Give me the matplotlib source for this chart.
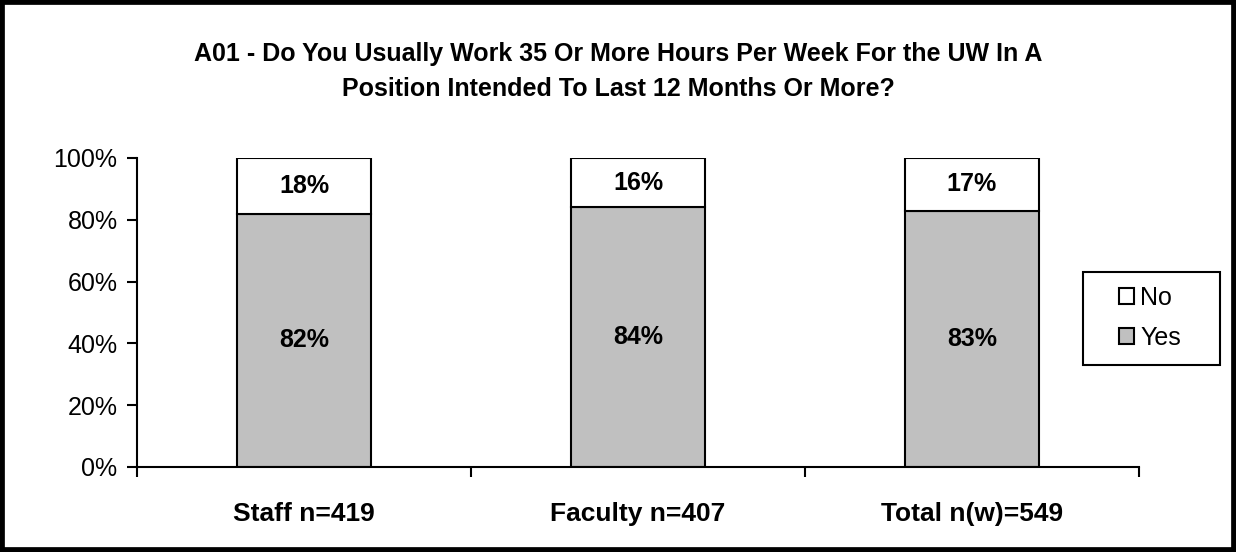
import matplotlib.pyplot as plt
from matplotlib.patches import Rectangle
import numpy as np

plt.rcParams['font.family'] = ['Liberation Sans', 'DejaVu Sans']

categories = ['Staff n=419', 'Faculty n=407', 'Total n(w)=549']
yes = [82, 84, 83]
no = [18, 16, 17]
title = ('A01 - Do You Usually Work 35 Or More Hours Per Week For the UW In A\n'
         'Position Intended To Last 12 Months Or More?')

fig = plt.figure(figsize=(12.36, 5.52), dpi=100)
ax = fig.add_axes([0.1108, 0.154, 0.8107, 0.5598])

x = np.arange(len(categories))
b_yes = ax.bar(x, yes, width=0.4, color='#c0c0c0', edgecolor='black', linewidth=1.5, label='Yes')
b_no = ax.bar(x, no, width=0.4, bottom=yes, color='white', edgecolor='black', linewidth=1.5, label='No')

for i in range(len(x)):
    ax.text(x[i], yes[i] / 2, f'{yes[i]}%', ha='center', va='center', fontsize=18, fontweight='bold')
    ax.text(x[i], yes[i] + no[i] / 2, f'{no[i]}%', ha='center', va='center', fontsize=18, fontweight='bold')

ax.set_xlim(-0.5, 2.5)
ax.set_ylim(0, 100)
ax.set_yticks([0, 20, 40, 60, 80, 100])
ax.set_yticklabels([f'{v}%' for v in [0, 20, 40, 60, 80, 100]], fontsize=18)
ax.set_xticks(x)
ax.set_xticklabels(categories, fontsize=19, fontweight='bold')
ax.tick_params(axis='x', length=0, pad=25)
ax.set_xticks([-0.5, 0.5, 1.5, 2.5], minor=True)
ax.tick_params(axis='x', which='minor', length=7, width=1.5, direction='out')
ax.tick_params(axis='y', length=7, width=1.5, direction='out', pad=7)
for s in ['top', 'right']:
    ax.spines[s].set_visible(False)
for s in ['left', 'bottom']:
    ax.spines[s].set_linewidth(1.5)

handles = [b_no, b_yes]
leg = fig.legend(handles, ['No', 'Yes'], loc='center left', bbox_to_anchor=(1119 / 1236, 0.424),
                 fontsize=18, frameon=False, borderpad=0, borderaxespad=0,
                 handlelength=0.6, handleheight=0.6, handletextpad=0.25, labelspacing=0.65)
fig.patches.append(Rectangle((1083 / 1236, 187 / 552), 137 / 1236, 93 / 552,
                             transform=fig.transFigure, fill=False, edgecolor='black', linewidth=1.5))

fig.text(0.5, 0.870, title, ha='center', va='center', fontsize=18, fontweight='bold', linespacing=1.6)

fig.patches.append(Rectangle((0, 0), 1, 1, transform=fig.transFigure, fill=False,
                             edgecolor='black', linewidth=7, zorder=10))

fig.savefig('out.png', dpi=100)
